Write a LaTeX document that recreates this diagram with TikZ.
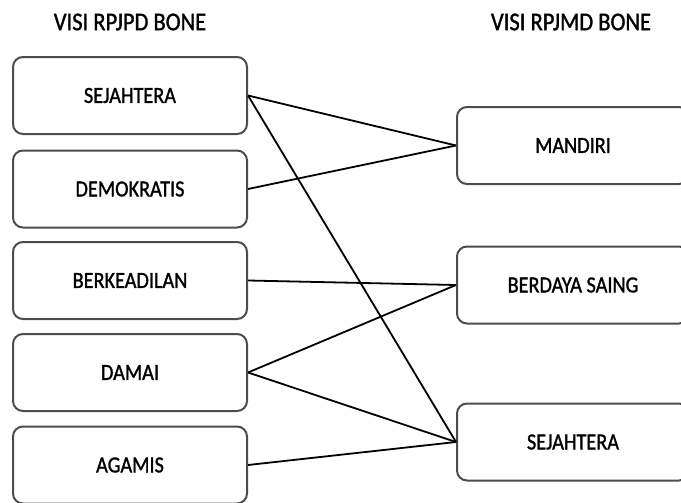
\documentclass[tikz,border=0pt]{standalone}
\usepackage{fontspec}
\setmainfont{Carlito}
\newfontfamily\narrowfont{Carlito}[FakeStretch=0.88,FakeBold=1.2]
\tikzset{box/.style={draw=black!70,line width=1pt,rounded corners=5pt,fill=white,minimum width=117pt,minimum height=38.5pt,inner sep=0pt,font=\narrowfont\fontsize{11.5}{14}\selectfont},
ttl/.style={inner sep=0pt,font=\narrowfont\fontsize{12.8}{15}\selectfont},
lnk/.style={line width=0.9pt}}

\begin{document}
\begin{tikzpicture}[x=0.5pt,y=-0.5pt]
  \useasboundingbox (0,0) rectangle (681,503);
  \node[ttl] (tl) at (130,22) {VISI RPJPD BONE};
  \node[ttl] (tr) at (571,22) {VISI RPJMD BONE};
  \node[box] (l1) at (130,95.5) {SEJAHTERA};
  \node[box] (l2) at (130,189) {DEMOKRATIS};
  \node[box] (l3) at (130,280.5) {BERKEADILAN};
  \node[box] (l4) at (130,372.5) {DAMAI};
  \node[box] (l5) at (130,465) {AGAMIS};
  \node[box,minimum width=116pt] (r1) at (573,145.5) {MANDIRI};
  \node[box,minimum width=116pt] (r2) at (573,285) {BERDAYA SAING};
  \node[box,minimum width=116pt] (r3) at (573,442) {SEJAHTERA};
  \draw (l1.east) edge[lnk] (r1.west)  edge[lnk] (r3.west)
  (l2.east) edge[lnk] (r1.west)
  (l3.east) edge[lnk] (r2.west)
  (l4.east) edge[lnk] (r2.west)  edge[lnk] (r3.west)
  (l5.east) edge[lnk] (r3.west);
\end{tikzpicture}
\end{document}
